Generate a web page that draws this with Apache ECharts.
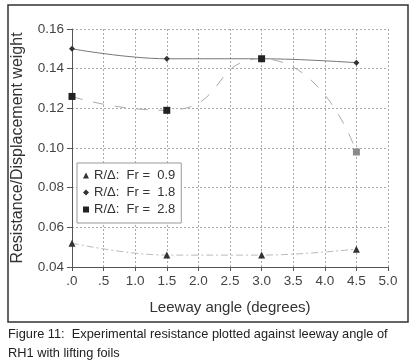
<!DOCTYPE html>
<html>
<head>
<meta charset="utf-8">
<script src="https://cdn.jsdelivr.net/npm/echarts@6/dist/echarts.min.js"></script>
<style>
  html, body { margin: 0; padding: 0; background: #fff; }
  #chart { width: 413px; height: 361px; }
</style>
</head>
<body>
<div id="chart"></div>
<script>
// leeway angles (degrees)
let angles = [0, 1.5, 3.0, 4.5];
// R/Δ at each Froude number
let fr09 = [0.052, 0.046, 0.046, 0.049];
let fr18 = [0.150, 0.145, 0.145, 0.143];
let fr28 = [0.126, 0.119, 0.145, 0.098];
let seriesNames = ['R/Δ:  Fr =  0.9', 'R/Δ:  Fr =  1.8', 'R/Δ:  Fr =  2.8'];
let xTickLabels = ['.0', '.5', '1.0', '1.5', '2.0', '2.5', '3.0', '3.5', '4.0', '4.5', '5.0'];

function pairs(vals) {
    return angles.map(function (a, i) { return [a, vals[i]]; });
}

let font = 'Liberation Sans, Arial, sans-serif';

let fr28Data = pairs(fr28);
// last square is printed lighter in the original
fr28Data[3] = { value: fr28Data[3], itemStyle: { color: '#8a8a8a' } };

let option = {
    animation: false,
    backgroundColor: '#fff',
    grid: { left: 72, right: 25, top: 29, bottom: 94 },
    xAxis: {
        type: 'value',
        min: 0,
        max: 5,
        interval: 0.5,
        name: 'Leeway angle (degrees)',
        nameLocation: 'middle',
        nameGap: 33,
        nameTextStyle: { fontFamily: font, fontSize: 15, color: '#333' },
        axisLine: { lineStyle: { color: '#555', width: 1 } },
        axisTick: { show: true, length: 4, lineStyle: { color: '#555' } },
        axisLabel: {
            fontFamily: font, fontSize: 13.5, color: '#444', margin: 7,
            formatter: function (v) { return xTickLabels[Math.round(v / 0.5)]; }
        },
        splitLine: { show: true, lineStyle: { color: '#aaa', type: [2, 2], width: 1 } }
    },
    yAxis: {
        type: 'value',
        min: 0.04,
        max: 0.16,
        interval: 0.02,
        name: 'Resistance/Displacement weight',
        nameLocation: 'middle',
        nameGap: 46,
        nameTextStyle: { fontFamily: font, fontSize: 16, color: '#333' },
        axisLine: { show: true, lineStyle: { color: '#555', width: 1 } },
        axisTick: { show: true, length: 5, lineStyle: { color: '#555' } },
        axisLabel: {
            fontFamily: font, fontSize: 13.5, color: '#444', margin: 8,
            formatter: function (v) { return v.toFixed(2); }
        },
        splitLine: { show: true, lineStyle: { color: '#aaa', type: [2, 2], width: 1 } }
    },
    legend: {
        orient: 'vertical',
        left: 77,
        top: 163,
        padding: [6, 6, 7, 6],
        itemGap: 4,
        itemWidth: 6,
        itemHeight: 6,
        backgroundColor: '#fff',
        borderColor: '#999',
        borderWidth: 1,
        textStyle: { fontFamily: font, fontSize: 13, color: '#333' },
        data: [
            { name: seriesNames[0], icon: 'triangle' },
            { name: seriesNames[1], icon: 'diamond' },
            { name: seriesNames[2], icon: 'rect' }
        ]
    },
    series: [
        {
            name: seriesNames[0],
            type: 'line',
            data: pairs(fr09),
            smooth: 0.4,
            symbol: 'triangle',
            symbolSize: 7,
            itemStyle: { color: '#333' },
            lineStyle: { color: '#bbb', width: 1, type: [7, 3, 2, 3] },
            z: 3
        },
        {
            name: seriesNames[1],
            type: 'line',
            data: pairs(fr18),
            smooth: 0.4,
            symbol: 'diamond',
            symbolSize: 6,
            itemStyle: { color: '#333' },
            lineStyle: { color: '#777', width: 1 },
            z: 3
        },
        {
            name: seriesNames[2],
            type: 'line',
            data: fr28Data,
            smooth: 0.6,
            symbol: 'rect',
            symbolSize: 7,
            itemStyle: { color: '#222' },
            lineStyle: { color: '#aaa', width: 1, type: [11, 11] },
            z: 4
        }
    ],
    graphic: [
        {
            type: 'rect',
            shape: { x: 8, y: 5, width: 400, height: 317 },
            style: { fill: 'none', stroke: '#333', lineWidth: 1.5 },
            z: 0
        },
        {
            type: 'text',
            left: 8,
            top: 325,
            style: {
                text: 'Figure 11:  Experimental resistance plotted against leeway angle of\nRH1 with lifting foils',
                font: '12.8px Liberation Sans, Arial, sans-serif',
                fill: '#222',
                lineHeight: 19
            }
        }
    ]
};

let chart = echarts.init(document.getElementById('chart'));
chart.setOption(option);
</script>
</body>
</html>
